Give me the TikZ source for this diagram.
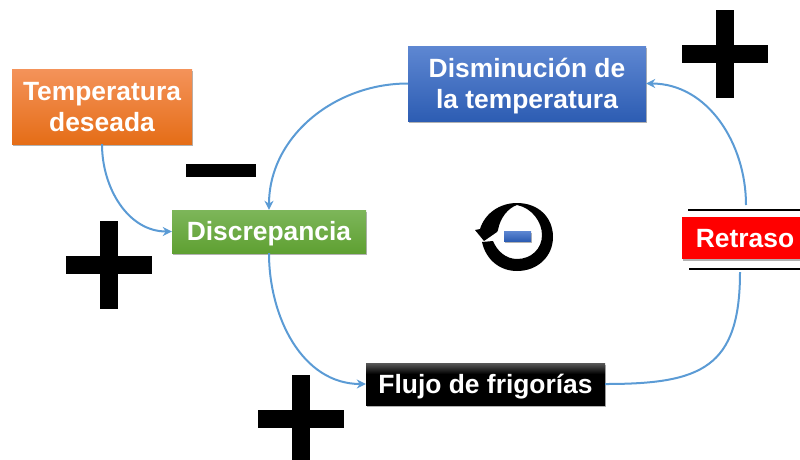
\documentclass[tikz,border=0pt]{standalone}
\usepackage{fontspec}
\setmainfont{Liberation Sans}
\usetikzlibrary{arrows.meta,shadows}
\definecolor{flecha}{HTML}{5B9BD5}
\definecolor{naranjaA}{HTML}{F4935A}
\definecolor{naranjaB}{HTML}{F57F2E}
\definecolor{naranjaC}{HTML}{E56D17}
\definecolor{verdeA}{HTML}{7DB65A}
\definecolor{verdeB}{HTML}{6CAA42}
\definecolor{verdeC}{HTML}{5FA032}
\definecolor{azulA}{HTML}{5E87D2}
\definecolor{azulB}{HTML}{4472C4}
\definecolor{azulC}{HTML}{2D5DB3}
\pgfdeclareverticalshading{negrocaja}{100bp}{color(0bp)=(black); color(62bp)=(black); color(75bp)=(black!65); color(100bp)=(black!65)}
\newcommand{\bajar}[1]{\raisebox{-3pt}[\height][\depth]{\begin{tabular}{@{}c@{}}#1\end{tabular}}}
\tikzset{
    caja/.style={shape=rectangle,inner sep=0pt,text=white,
        font=\bfseries\fontsize{26.4}{31.5}\selectfont,
        drop shadow={shadow xshift=0.5pt,shadow yshift=-2pt,opacity=0.3,fill=black}},
    naranja/.style={caja,top color=naranjaA,middle color=naranjaB,bottom color=naranjaC},
    verde/.style={caja,top color=verdeA,middle color=verdeB,bottom color=verdeC},
    azul/.style={caja,top color=azulA,middle color=azulB,bottom color=azulC},
    negro/.style={caja,shading=negrocaja},
    conector/.style={draw=flecha,line width=2pt,-{Stealth[length=9pt,width=9pt]}},
    libre/.style={draw=flecha,line width=2pt},
    barra/.style={line width=2.4pt,draw=black}
}
\begin{document}
\begin{tikzpicture}[x=1pt,y=-1pt]
    \useasboundingbox (0,0) rectangle (800,459);

    % cajas
    \node (temperatura) [naranja,minimum width=180pt,minimum height=75pt]
        at (102,106.5) {\bajar{Temperatura\\deseada}};
    \node (discrepancia) [verde,minimum width=194pt,minimum height=43pt]
        at (269,231.5) {\bajar{Discrepancia}};
    \node (disminucion) [azul,minimum width=238pt,minimum height=75pt]
        at (527,83.5) {\bajar{Disminución de\\la temperatura}};
    \node (flujo) [negro,minimum width=239pt,minimum height=42pt]
        at (485.5,384) {\bajar{Flujo de frigorías}};
    \node (retraso) [caja,minimum width=126pt,minimum height=42pt,fill=red]
        at (745,238) {\bajar{Retraso}};

    % lineas del retraso
    \coordinate (retrasoArriba) at (746,205);
    \coordinate (retrasoAbajo) at (740,272);
    \coordinate (lineaA) at (688,210);
    \coordinate (lineaB) at (800,210);
    \coordinate (lineaC) at (689,269);
    \coordinate (lineaD) at (800,269);
    \draw[barra] (lineaA) -- (lineaB);
    \draw[barra] (lineaC) -- (lineaD);

    % flechas
    \draw[conector] (temperatura.south) to[out=270,in=180] (discrepancia.west);
    \draw[conector] (disminucion.west) to[out=180,in=90] (discrepancia.north);
    \draw[conector] (discrepancia.south) to[out=270,in=180] (flujo.west);
    \draw[libre] (flujo.east) to[out=0,in=270,looseness=1.4] (retrasoAbajo);
    \draw[conector] (retrasoArriba) to[out=90,in=0] (disminucion.east);

    % signos
    \foreach \cx/\cy in {725/53.5,109/265,300.5/419} {
        \fill[black] (\cx-43,\cy-9) rectangle (\cx+43,\cy+9);
        \fill[black] (\cx-9,\cy-44) rectangle (\cx+9,\cy+44);
    }
    \fill[black] (186,164) rectangle (256,177);

    % bucle
    \fill[black] (482,242)
        .. controls (486,260) and (500,271) .. (517,271)
        .. controls (538,271) and (553,256) .. (553,237)
        .. controls (553,217) and (538,203) .. (517,203)
        .. controls (500,203) and (485,213) .. (480,229)
        -- (475,230) -- (484,241) -- (497,232) -- (498,230)
        .. controls (500,218) and (508,208) .. (517,205)
        .. controls (532,208) and (542,222) .. (542,235)
        .. controls (542,249) and (531,259) .. (517,259)
        .. controls (506,259) and (497,251) .. (493,241)
        -- cycle;
    \node (menos) [azul,minimum width=27pt,minimum height=10pt] at (517.5,236) {};
\end{tikzpicture}
\end{document}
